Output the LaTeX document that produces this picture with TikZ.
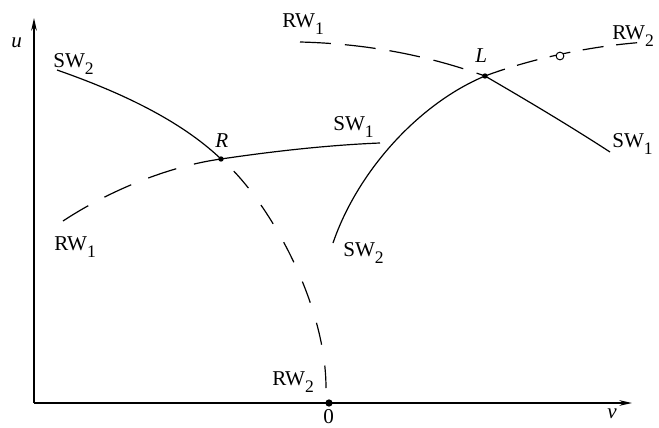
\documentclass[tikz,border=0pt]{standalone}
\usepackage{fontspec}
\setmainfont{Liberation Serif}
\usetikzlibrary{arrows.meta}
\newcommand{\idx}[1]{\raisebox{-5.5pt}{\fontsize{12.5}{12.5}\selectfont #1}}

\begin{document}
\begin{tikzpicture}[x=0.025cm,y=-0.025cm,
  lbl/.style={anchor=base west,inner sep=0pt},
  sw/.style={line width=0.85pt},
  rw/.style={line width=0.85pt,dash pattern=#1},
  font=\fontsize{15}{18}\selectfont]
\useasboundingbox (0,0) rectangle (659,428);

% axes
\coordinate (orig) at (34,403);
\coordinate (utop) at (34,18);
\coordinate (vend) at (632,403);
\draw[line width=1pt,-{Stealth[length=9pt,width=4pt]}] (orig) -- (utop);
\draw[line width=1pt,-{Stealth[length=9pt,width=4pt]}] (orig) -- (vend);
\node[lbl] at (11,47) {\textit{u}};
\node[lbl] at (607,418) {\textit{v}};
\node[lbl] at (323,423) {0};

% points
\coordinate (R) at (221,159);
\coordinate (L) at (485,76);
\coordinate (zero) at (329,403);
\coordinate (swtwoa) at (57,70);
\coordinate (rwtwoa) at (326,388);
\coordinate (rwonea) at (63,221);
\coordinate (swonea) at (380,143);
\coordinate (swtwob) at (333,243);
\coordinate (swoneb) at (610,152);
\coordinate (rwoneb) at (300,42);
\coordinate (rwtwob) at (647,42);

% curves through R
\draw[sw] (swtwoa) .. controls (120,92) and (180,120) .. (R);
\draw[rw={on 16pt off 15pt}] (rwtwoa) .. controls (326,300) and (265,196) .. (R);
\draw[rw={on 21pt off 13pt}] (rwonea) .. controls (110,190) and (170,166) .. (R);
\draw[sw] (R) .. controls (275,151) and (330,145) .. (swonea);

% curves through L
\draw[sw] (swtwob) .. controls (358,170) and (420,103) .. (L);
\draw[sw] (L) .. controls (528,101) and (570,126) .. (swoneb);
\draw[rw={on 22pt off 10pt}] (rwoneb) .. controls (380,44) and (440,60) .. (L);
\draw[rw={on 15pt off 9pt}] (L) .. controls (525,61) and (585,46) .. (rwtwob);
\node[circle,draw,fill=white,line width=0.7pt,inner sep=0pt,minimum size=5.5pt] (mark) at (560,56) {};

\fill (R) circle[radius=1.9pt];
\fill (L) circle[radius=1.9pt];
\fill (zero) circle[radius=2.6pt];

% labels
\node[lbl] at (53,67) {SW\idx{2}};
\node[lbl] at (215,147) {\textit{R}};
\node[lbl] at (333,130) {SW\idx{1}};
\node[lbl] at (54,250) {RW\idx{1}};
\node[lbl] at (272,385) {RW\idx{2}};
\node[lbl] at (282,27) {RW\idx{1}};
\node[lbl] at (475,62) {\textit{L}};
\node[lbl] at (612,39) {RW\idx{2}};
\node[lbl] at (612,147) {SW\idx{1}};
\node[lbl] at (343,256) {SW\idx{2}};
\end{tikzpicture}
\end{document}
